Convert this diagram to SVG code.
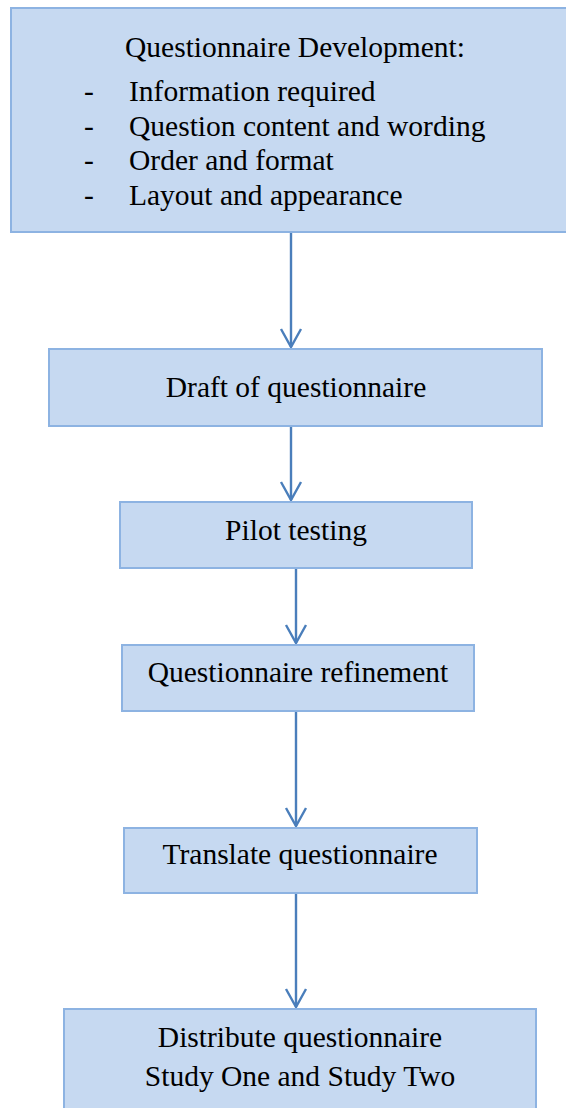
<svg xmlns="http://www.w3.org/2000/svg" width="566" height="1108" viewBox="0 0 566 1108">
  <style>
    .box { fill: #C6D9F1; stroke: #8DB3E2; stroke-width: 2; }
    .link { stroke: #4A7EBB; stroke-width: 2.4; fill: none; }
  </style>

  <rect width="566" height="1108" fill="#FFFFFF"/>

  <!-- connectors: vertical shafts with open V arrowheads -->
  <g id="connectors">
    <line class="link" x1="291" y1="233" x2="291" y2="347"/>
    <polyline class="link" points="281,329 291,347 301,329"/>
    <line class="link" x1="291" y1="427" x2="291" y2="500"/>
    <polyline class="link" points="281,482 291,500 301,482"/>
    <line class="link" x1="296" y1="569" x2="296" y2="643"/>
    <polyline class="link" points="286,625 296,643 306,625"/>
    <line class="link" x1="296" y1="712" x2="296" y2="826"/>
    <polyline class="link" points="286,808 296,826 306,808"/>
    <line class="link" x1="296" y1="894" x2="296" y2="1007"/>
    <polyline class="link" points="286,989 296,1007 306,989"/>
  </g>

  <!-- nodes -->
  <g id="nodes" font-family="Liberation Serif, Times New Roman, serif" font-size="29.5" fill="#000000">
    <g id="node-development">
      <rect class="box" x="11" y="8" width="558" height="224"/>
      <text x="125" y="57">Questionnaire Development:</text>
      <text x="84" y="101">-</text>
      <text x="129" y="101">Information required</text>
      <text x="84" y="136">-</text>
      <text x="129" y="136">Question content and wording</text>
      <text x="84" y="170">-</text>
      <text x="129" y="170">Order and format</text>
      <text x="84" y="205">-</text>
      <text x="129" y="205">Layout and appearance</text>
    </g>

    <g id="node-draft">
      <rect class="box" x="49" y="349" width="493" height="77"/>
      <text x="296" y="397" text-anchor="middle">Draft of questionnaire</text>
    </g>

    <g id="node-pilot">
      <rect class="box" x="120" y="502" width="352" height="66"/>
      <text x="296" y="540" text-anchor="middle">Pilot testing</text>
    </g>

    <g id="node-refinement">
      <rect class="box" x="122" y="645" width="352" height="66"/>
      <text x="298" y="682" text-anchor="middle">Questionnaire refinement</text>
    </g>

    <g id="node-translate">
      <rect class="box" x="124" y="828" width="353" height="65"/>
      <text x="300" y="864" text-anchor="middle">Translate questionnaire</text>
    </g>

    <g id="node-distribute">
      <rect class="box" x="64" y="1009" width="472" height="110"/>
      <text x="300" y="1047" text-anchor="middle">Distribute questionnaire</text>
      <text x="300" y="1086" text-anchor="middle">Study One and Study Two</text>
    </g>
  </g>
</svg>
